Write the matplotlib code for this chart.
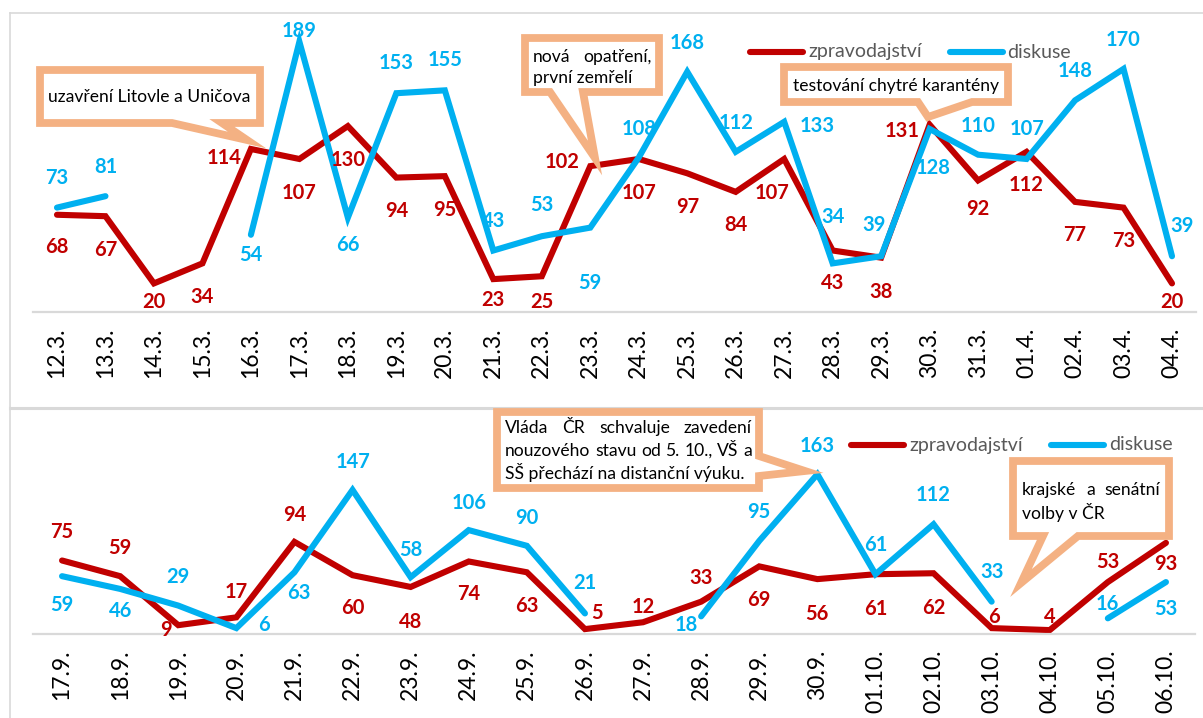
import numpy as np
import matplotlib
matplotlib.use("Agg")
import matplotlib.pyplot as plt
from matplotlib.patches import Polygon
from matplotlib.lines import Line2D

plt.rcParams['font.family'] = ['Lato', 'DejaVu Sans']

W, H = 1203, 718
RED = '#C00000'
BLUE = '#00B0F0'
BORDER = '#F4B183'
FRAME = '#D9D9D9'
LEGEND_TEXT = '#595959'
nan = np.nan

# spring wave (March / April)
spring_days = ['12.3.', '13.3.', '14.3.', '15.3.', '16.3.', '17.3.', '18.3.', '19.3.',
               '20.3.', '21.3.', '22.3.', '23.3.', '24.3.', '25.3.', '26.3.', '27.3.',
               '28.3.', '29.3.', '30.3.', '31.3.', '01.4.', '02.4.', '03.4.', '04.4.']
spring_news = [68, 67, 20, 34, 114, 107, 130, 94, 95, 23, 25, 102,
               107, 97, 84, 107, 43, 38, 131, 92, 112, 77, 73, 20]
spring_talk = [73, 81, nan, nan, 54, 189, 66, 153, 155, 43, 53, 59,
               108, 168, 112, 133, 34, 39, 128, 110, 107, 148, 170, 39]

# autumn wave (September / October)
autumn_days = ['17.9.', '18.9.', '19.9.', '20.9.', '21.9.', '22.9.', '23.9.', '24.9.',
               '25.9.', '26.9.', '27.9.', '28.9.', '29.9.', '30.9.', '01.10.', '02.10.',
               '03.10.', '04.10.', '05.10.', '06.10.']
autumn_news = [75, 59, 9, 17, 94, 60, 48, 74, 63, 5, 12, 33, 69, 56, 61, 62, 6, 4, 53, 93]
autumn_talk = [59, 46, 29, 6, 63, 147, 58, 106, 90, 21, nan, 18, 95, 163, 61, 112, 33, nan, 16, 53]

series_names = ['zpravodajství', 'diskuse']

# data label offsets from their point, in pixels (x right, y down)
spring_news_off = [(0, 32), (0, 34), (0, 19), (0, 34), (-27, 9), (0, 34), (0, 34), (0, 33),
                   (0, 34), (0, 21), (0, 26), (-28, -4), (0, 34), (0, 34), (0, 33), (-12, 34),
                   (0, 32), (0, 34), (-27, 6), (0, 29), (0, 33), (0, 33), (0, 33), (0, 19)]
spring_talk_off = [(0, -30), (0, -29), None, None, (0, 20), (0, -11), (0, 27), (0, -30),
                   (0, -30), (0, -30), (0, -31), (0, 55), (0, -29), (0, -29), (0, -29), (33, 4),
                   (0, -46), (-7, -31), (3, 39), (0, -29), (0, -30), (0, -29), (0, -29), (10, -30)]
autumn_news_off = [(0, -28), (0, -28), (-12, 5), (0, -25), (0, -27), (0, 33), (0, 35), (0, 33),
                   (0, 34), (12, -16), (0, -15), (0, -24), (0, 34), (0, 35), (0, 35), (0, 35),
                   (2, -11), (0, -13), (0, -20), (0, 21)]
autumn_talk_off = [(0, 29), (0, 22), (0, -29), (28, -3), (4, 21), (0, -28), (0, -27), (0, -27),
                   (0, -28), (0, -30), None, (-15, 9), (0, -29), (0, -28), (0, -29), (0, -29),
                   (0, -30), None, (0, -14), (0, 27)]

fig = plt.figure(figsize=(W / 100, H / 100), dpi=100)


def fx(x):
    return x / W


def fy(y):
    return 1 - y / H


def panel(left, right, base, top, ymax, days, news, talk, news_off, talk_off):
    ax = fig.add_axes([fx(left), fy(base), (right - left) / W, (base - top) / H])
    x = np.arange(len(days))
    for vals, offs, col in [(news, news_off, RED), (talk, talk_off, BLUE)]:
        ax.plot(x, vals, color=col, lw=4.4, solid_joinstyle='miter', solid_capstyle='round')
        for i, (v, o) in enumerate(zip(vals, offs)):
            if o is None or np.isnan(v):
                continue
            ax.annotate(str(int(v)), (i, v), xytext=(o[0] * 0.72, -o[1] * 0.72),
                        textcoords='offset points', ha='center', va='center',
                        color=col, fontsize=14.5, fontweight='bold')
    ax.set_xlim(-0.5, len(days) - 0.5)
    ax.set_ylim(0, ymax)
    ax.set_xticks(x)
    ax.set_xticklabels(days, rotation=90, fontsize=16.5, color='black')
    ax.tick_params(axis='x', length=0, pad=11)
    ax.set_yticks([])
    for s in ['left', 'right', 'top']:
        ax.spines[s].set_visible(False)
    ax.spines['bottom'].set_color(FRAME)
    ax.spines['bottom'].set_linewidth(1.6)
    ax.patch.set_alpha(0)
    return ax


panel(32.75, 1196.25, 312, 26, 200, spring_days, spring_news, spring_talk,
      spring_news_off, spring_talk_off)
panel(33, 1195, 634, 634 - 0.98 * 180, 180, autumn_days, autumn_news, autumn_talk,
      autumn_news_off, autumn_talk_off)

# chart frames
for xs, ys, lw in [([9.5, 1210], [12.5, 12.5], 1.2), ([9.5, 9.5], [12.5, 730], 1.2),
                   ([9.5, 1210], [408, 408], 2.2)]:
    fig.add_artist(Line2D([fx(v) for v in xs], [fy(v) for v in ys], color=FRAME, lw=lw))


# legends
def legend(x0, y):
    pos = x0
    for name, col in zip(series_names, [RED, BLUE]):
        fig.add_artist(Line2D([fx(pos), fx(pos + 53)], [fy(y), fy(y)], color=col, lw=4.4,
                              solid_capstyle='round'))
        t = fig.text(fx(pos + 58), fy(y), name, ha='left', va='center', fontsize=14,
                     color=LEGEND_TEXT)
        pos += 58 + t.get_window_extent(renderer).width + 28


renderer = fig.canvas.get_renderer()
legend(750, 52)
legend(851, 445)


# callouts
def callout(box, tail, tip, lines, ys, x0, x1, justify=True):
    bx0, by0, bx1, by1 = box
    side, a, b = tail
    if side == 'bottom':
        pts = [(bx0, by0), (bx1, by0), (bx1, by1), (b, by1), tip, (a, by1), (bx0, by1)]
    else:
        pts = [(bx0, by0), (bx1, by0), (bx1, a), tip, (bx1, b), (bx1, by1), (bx0, by1)]
    poly = Polygon([(fx(px), fy(py)) for px, py in pts], closed=True, transform=fig.transFigure,
                   facecolor='white', edgecolor=BORDER, lw=5.6, joinstyle='miter', zorder=5)
    fig.add_artist(poly)
    for k, (line, y) in enumerate(zip(lines, ys)):
        words = line.split()
        if not justify or k == len(lines) - 1 or len(words) == 1:
            fig.text(fx(x0), fy(y), line, ha='left', va='center', fontsize=12.6, zorder=6)
            continue
        texts = [fig.text(0, fy(y), w, ha='left', va='center', fontsize=12.6, zorder=6)
                 for w in words]
        widths = [t.get_window_extent(renderer).width for t in texts]
        gap = (x1 - x0 - sum(widths)) / (len(words) - 1)
        pos = x0
        for t, wd in zip(texts, widths):
            t.set_x(fx(pos))
            pos += wd + gap


callout((40, 70, 260, 123), ('bottom', 172, 222), (247, 140),
        ['uzavření Litovle a Uničova'], [97], 48, 252, justify=False)
callout((525, 38, 659, 92), ('bottom', 550, 583), (595, 158),
        ['nová opatření,', 'první zemřelí'], [57, 78], 533, 652)
callout((784, 67, 1008, 102), ('bottom', 918, 972), (928, 117),
        ['testování chytré karantény'], [86], 793, 1000, justify=False)
callout((497, 412, 759, 488), ('right', 456, 476), (805, 471),
        ['Vláda ČR schvaluje zavedení', 'nouzového stavu od 5. 10., VŠ a',
         'SŠ přechází na distanční výuku.'], [428, 451, 473], 505, 752)
callout((1013, 461, 1169, 536), ('bottom', 1043, 1078), (1021, 583),
        ['krajské a senátní', 'volby v ČR'], [490, 512], 1022, 1160)

fig.savefig('out.png', dpi=100)
